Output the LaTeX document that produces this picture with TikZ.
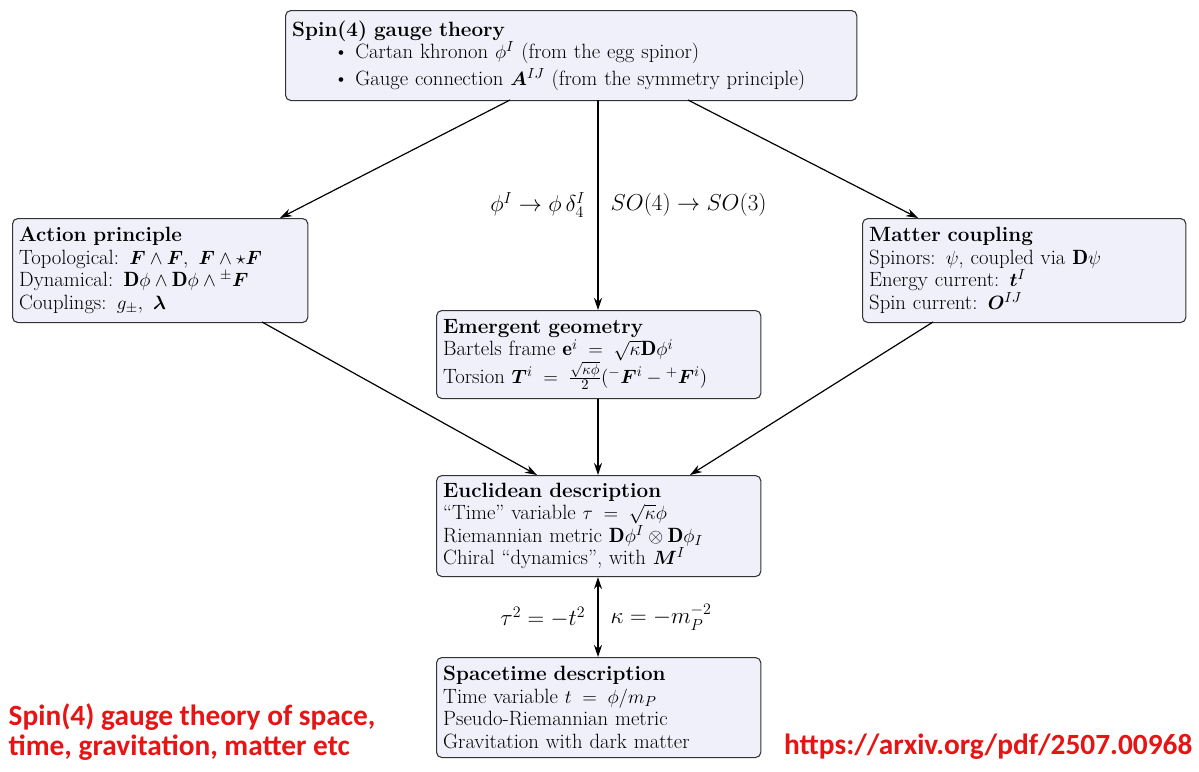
\documentclass[tikz,border=0pt]{standalone}
\usepackage{amsmath,amssymb,bm}
\usepackage{fontspec}
\newfontfamily\redf{Carlito}
\usetikzlibrary{arrows.meta}
\begin{document}
\begin{tikzpicture}[x=0.75pt,y=-0.75pt,
  box/.style={draw=black!80,fill={rgb,255:red,240;green,240;blue,251},rounded corners=4pt,line width=0.8pt,
    anchor=north west,align=left,inner xsep=5pt,inner ysep=3pt,
    font=\fontsize{15.5}{16.9}\selectfont},
  arr/.style={-{Stealth[length=9pt,width=6pt]},line width=0.9pt},
  darr/.style={{Stealth[length=9pt,width=6pt]}-{Stealth[length=9pt,width=6pt]},line width=0.9pt},
  lab/.style={font=\fontsize{16.5}{18}\selectfont},
  red/.style={text={rgb,255:red,230;green,20;blue,20},font=\redf\bfseries\fontsize{22}{22.5}\selectfont,align=left}]
\useasboundingbox (0,0) rectangle (1199,771);
\node[box,text width=558*0.75pt,minimum height=90*0.75pt] (top) at (285,10) {\textbf{Spin(4) gauge theory}\\
\hspace*{2em}\textbullet\ Cartan khronon $\phi^I$ (from the egg spinor)\\[3pt]
\hspace*{2em}\textbullet\ Gauge connection $\bm A^{IJ}$ (from the symmetry principle)};
\node[box,text width=282*0.75pt,minimum height=104*0.75pt] (act) at (12,218) {\textbf{Action principle}\\
Topological: $\bm F\wedge\bm F,\ \bm F\wedge\star\bm F$\\
Dynamical: $\mathbf{D}\phi\wedge\mathbf{D}\phi\wedge{}^{\pm}\bm F$\\
Couplings: $g_\pm,\ \bm\lambda$};
\node[box,text width=310*0.75pt,minimum height=104*0.75pt] (mat) at (862,218) {\textbf{Matter coupling}\\
Spinors: $\psi$, coupled via $\mathbf{D}\psi$\\
Energy current: $\bm t^I$\\
Spin current: $\bm O^{IJ}$};
\node[box,text width=311*0.75pt,minimum height=88*0.75pt] (emg) at (436,310) {\textbf{Emergent geometry}\\
Bartels frame $\mathbf{e}^i\;=\;\sqrt{\kappa}\mathbf{D}\phi^i$\\
Torsion $\bm T^i\;=\;\frac{\sqrt{\kappa\phi}}{2}({}^-\bm F^i-{}^+\bm F^i)$};
\node[box,text width=311*0.75pt,minimum height=101*0.75pt] (euc) at (436,475) {\textbf{Euclidean description}\\
``Time'' variable $\tau\;=\;\sqrt{\kappa}\phi$\\
Riemannian metric $\mathbf{D}\phi^I\otimes\mathbf{D}\phi_I$\\
Chiral ``dynamics'', with $\bm M^I$};
\node[box,text width=311*0.75pt,minimum height=100*0.75pt] (spt) at (436,657) {\textbf{Spacetime description}\\
Time variable $t\;=\;\phi/m_P$\\
Pseudo-Riemannian metric\\
Gravitation with dark matter};
\draw[arr] (510,100) -- (280,218);
\draw[arr] (598,100) -- (emg.north -| 598,0);
\draw[arr] (688,100) -- (918,218);
\draw[arr] (262,322) -- (537,475);
\draw[arr] (emg.south -| 598,0) -- (euc.north -| 598,0);
\draw[arr] (933,322) -- (690,475);
\draw[darr] (euc.south -| 598,0) -- (spt.north -| 598,0);
\node[lab,anchor=east] (l1) at (590,205) {$\phi^I\to\phi\,\delta^I_4$};
\node[lab,anchor=west] (l2) at (606,205) {$SO(4)\to SO(3)$};
\node[lab,anchor=east] (l3) at (590,617) {$\tau^2=-t^2$};
\node[lab,anchor=west] (l4) at (606,617) {$\kappa=-m_P^{-2}$};
\node[red,anchor=west] (r1) at (4,732) {Spin(4) gauge theory of space,\\time, gravitation, matter etc};
\node[red,anchor=east] (r2) at (1197,747) {https://arxiv.org/pdf/2507.00968};
\end{tikzpicture}
\end{document}
